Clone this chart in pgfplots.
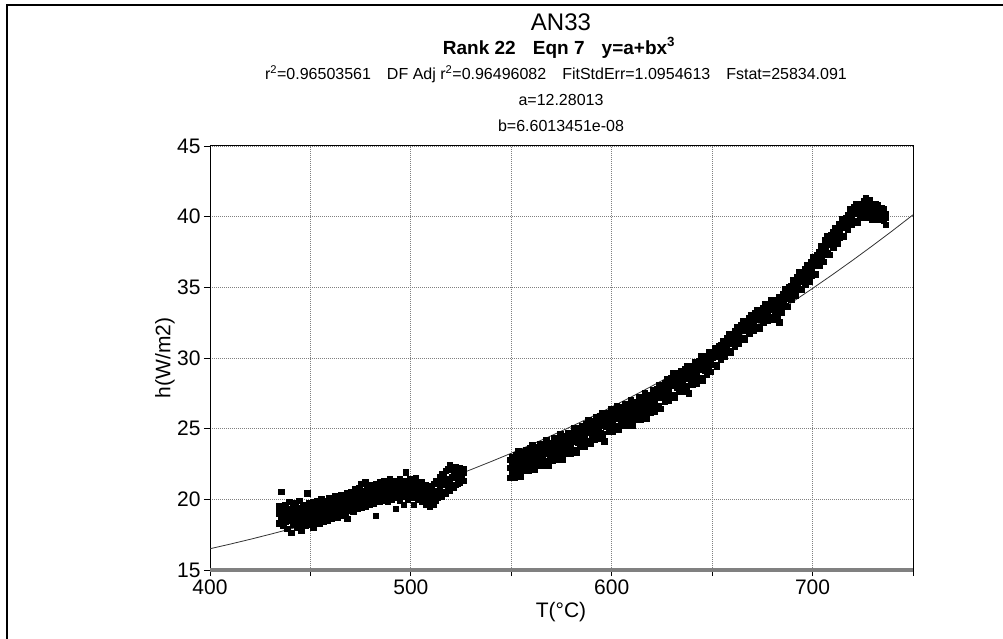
\documentclass[border=0pt]{standalone}
\usepackage{fontspec}
\setmainfont{Liberation Sans}
\usepackage{pgfplots}
\usepackage{pgfplotstable}
\pgfplotsset{compat=1.18}

% measured points, three readings per x column (lower, middle, upper part of the cloud)
\pgfplotstableread{
x lo mid hi
434.5 18.3 19.0 19.5
435.5 18.6 19.2 20.5
436.5 18.1 18.8 19.4
437.5 18.4 19.1 19.6
438.5 17.9 18.7 19.3
439.5 18.5 19.0 19.8
440.5 17.6 18.6 19.2
441.5 18.2 18.9 19.5
442.5 18.5 19.3 19.7
443.5 18.0 18.8 19.4
444.5 18.3 19.0 19.9
445.5 17.8 18.7 19.3
446.5 18.4 19.2 19.6
447.5 18.1 18.9 19.5
448.5 18.6 19.3 20.4
449.5 18.2 18.8 19.7
450.5 18.5 19.1 19.5
451.5 18.0 18.9 19.8
452.5 18.4 19.2 19.6
453.5 18.7 19.0 19.9
454.5 18.3 19.3 19.7
455.5 18.6 19.1 20.0
456.5 18.4 18.9 19.6
457.5 18.8 19.4 19.9
458.5 18.5 19.2 19.8
459.5 18.9 19.5 20.1
460.5 18.6 19.3 19.9
461.5 18.8 19.1 20.0
462.5 19.0 19.5 20.2
463.5 18.7 19.4 19.8
464.5 19.1 19.6 20.1
465.5 18.8 19.3 20.3
466.5 19.2 19.7 20.0
467.5 18.9 19.5 20.2
468.5 18.6 19.8 20.4
469.5 19.2 19.6 20.3
470.5 19.4 19.9 20.5
471.5 19.1 19.7 20.4
472.5 19.5 20.0 20.7
473.5 19.3 19.8 20.4
474.5 19.6 20.2 20.8
475.5 19.4 19.9 21.1
476.5 19.7 20.3 20.6
477.5 19.5 20.0 21.2
478.5 19.8 20.4 20.9
479.5 19.6 20.1 20.7
480.5 19.9 20.5 21.0
481.5 19.7 20.2 20.8
482.5 18.8 20.4 21.1
483.5 19.9 20.6 20.9
484.5 19.8 20.3 21.2
485.5 20.0 20.5 20.9
486.5 19.9 20.7 21.3
487.5 20.1 20.4 21.0
488.5 19.8 20.6 21.2
489.5 20.2 20.8 21.4
490.5 20.0 20.5 21.1
491.5 20.3 20.7 21.3
492.5 19.3 20.4 21.0
493.5 20.1 20.8 21.2
494.5 19.9 20.6 21.4
495.5 20.2 20.5 21.0
496.5 19.6 20.9 21.3
497.5 20.3 20.7 21.9
498.5 20.0 20.6 21.2
499.5 20.4 20.9 21.4
500.5 20.1 20.7 21.1
501.5 19.6 20.5 21.3
502.5 20.2 20.8 21.5
503.5 20.0 20.6 21.1
504.5 20.3 20.4 21.0
505.5 19.8 20.5 21.2
506.5 19.9 20.2 20.9
507.5 19.6 20.4 21.0
508.5 19.7 20.1 20.7
509.5 19.5 20.3 20.9
510.5 19.8 20.2 20.8
511.5 19.6 20.4 21.1
512.5 19.9 20.6 21.3
513.5 20.1 20.5 21.2
514.5 20.3 20.9 21.6
515.5 20.2 21.0 21.8
516.5 20.5 21.2 21.7
517.5 20.4 21.1 22.0
518.5 20.7 21.4 22.1
519.5 20.6 21.3 22.4
520.5 20.9 21.6 22.2
521.5 20.8 21.5 22.0
522.5 21.0 21.7 22.3
523.5 21.1 21.5 22.1
524.5 21.2 21.8 22.2
525.5 21.4 21.7 22.0
526.5 21.3 21.9 22.1
549.5 21.5 22.2 22.8
550.5 21.8 22.5 23.0
551.5 21.5 22.1 22.8
552.5 21.9 22.5 23.1
553.5 21.9 22.9 23.4
554.5 21.6 22.4 22.9
555.5 22.3 22.8 23.2
556.5 22.0 22.7 23.3
557.5 22.3 23.0 23.5
558.5 22.0 22.6 23.3
559.5 22.4 23.0 23.6
560.5 22.3 23.3 23.8
561.5 22.1 22.9 23.4
562.5 22.7 23.2 23.6
563.5 22.4 23.1 23.7
564.5 22.7 23.4 23.9
565.5 22.4 23.0 23.7
566.5 22.7 23.3 23.9
567.5 22.7 23.7 24.2
568.5 22.4 23.2 23.7
569.5 23.1 23.6 24.0
570.5 22.7 23.4 24.0
571.5 23.1 23.8 24.3
572.5 22.8 23.4 24.1
573.5 23.1 23.7 24.3
574.5 23.1 24.1 24.6
575.5 22.8 23.6 24.1
576.5 23.5 24.0 24.4
577.5 23.2 23.9 24.5
578.5 23.5 24.2 24.7
579.5 23.2 23.8 24.5
580.5 23.5 24.1 24.7
581.5 23.5 24.5 25.0
582.5 23.3 24.1 24.6
583.5 24.0 24.5 24.9
584.5 23.7 24.4 25.0
585.5 24.0 24.7 25.2
586.5 23.7 24.3 25.0
587.5 24.1 24.7 25.3
588.5 24.1 25.1 25.6
589.5 23.9 24.7 25.2
590.5 24.5 25.0 25.4
591.5 24.2 24.9 25.5
592.5 24.6 25.3 25.8
593.5 24.3 24.9 25.6
594.5 24.7 25.3 25.9
595.5 24.6 25.6 26.1
596.5 24.1 25.2 25.7
597.5 25.1 25.6 26.0
598.5 24.8 25.5 26.1
599.5 25.2 25.9 26.4
600.5 24.8 25.4 26.1
601.5 25.2 25.8 26.4
602.5 25.1 26.1 26.6
603.5 24.9 25.7 26.2
604.5 25.5 26.0 26.4
605.5 25.2 25.9 26.5
606.5 25.5 26.2 26.7
607.5 25.2 25.8 26.5
608.5 25.5 26.1 26.7
609.5 25.5 26.5 27.0
610.5 25.2 26.0 26.5
611.5 25.9 26.4 26.8
612.5 25.6 26.3 26.9
613.5 26.0 26.7 27.2
614.5 25.6 26.2 26.9
615.5 26.0 26.6 27.2
616.5 26.0 27.0 27.5
617.5 25.7 26.5 27.0
618.5 26.4 26.9 27.3
619.5 26.1 26.8 27.4
620.5 26.5 27.2 27.7
621.5 26.2 26.8 27.5
622.5 26.6 27.2 27.8
623.5 26.6 27.6 28.1
624.5 26.4 27.2 27.7
625.5 27.2 27.7 28.1
626.5 26.9 27.6 28.2
627.5 27.3 28.0 28.5
628.5 27.0 27.6 28.3
629.5 27.4 28.0 28.6
630.5 27.4 28.4 28.9
631.5 27.2 28.0 28.5
632.5 27.9 28.4 28.8
633.5 27.6 28.3 28.9
634.5 27.9 28.6 29.1
635.5 27.6 28.2 28.9
636.5 28.0 28.6 29.2
637.5 27.9 28.9 29.4
638.5 27.5 28.5 29.0
639.5 28.4 28.9 29.3
640.5 28.1 28.8 29.4
641.5 28.5 29.2 29.7
642.5 28.2 28.8 29.5
643.5 28.6 29.2 29.8
644.5 28.6 29.6 30.1
645.5 28.4 29.2 29.7
646.5 29.1 29.6 30.0
647.5 28.8 29.5 30.1
648.5 29.2 29.9 30.4
649.5 29.0 29.6 30.3
650.5 29.5 30.0 30.4
651.5 29.5 30.3 30.7
652.5 29.4 30.1 30.5
653.5 30.1 30.5 30.8
654.5 29.9 30.4 30.9
655.5 30.3 30.8 31.2
656.5 30.1 30.6 31.1
657.5 30.5 30.9 31.4
658.5 30.5 31.3 31.7
659.5 30.4 31.1 31.5
660.5 31.0 31.4 31.7
661.5 30.8 31.4 31.9
662.5 31.2 31.8 32.2
663.5 31.0 31.5 32.1
664.5 31.4 31.9 32.3
665.5 31.4 32.2 32.6
666.5 31.3 32.0 32.4
667.5 31.9 32.3 32.6
668.5 31.7 32.3 32.8
669.5 32.1 32.6 33.0
670.5 31.9 32.3 32.9
671.5 32.2 32.7 33.2
672.5 32.2 33.0 33.4
673.5 32.1 32.8 33.2
674.5 32.7 33.1 33.4
675.5 32.5 33.0 33.5
676.5 32.8 33.4 33.8
677.5 32.6 33.0 33.6
678.5 32.9 33.4 33.8
679.5 32.9 33.7 34.1
680.5 32.7 33.4 33.8
681.5 33.3 33.7 34.0
682.5 33.0 33.6 34.1
683.5 32.5 33.9 34.3
684.5 33.2 33.6 34.2
685.5 33.6 34.0 34.5
686.5 33.7 34.5 34.9
687.5 33.6 34.2 34.6
688.5 34.3 34.7 35.0
689.5 34.1 34.7 35.1
690.5 34.5 35.1 35.5
691.5 34.4 34.9 35.4
692.5 34.8 35.3 35.7
693.5 34.9 35.7 36.1
694.5 34.8 35.4 35.8
695.5 35.4 35.8 36.1
696.5 35.2 35.8 36.3
697.5 35.6 36.2 36.6
698.5 35.4 35.9 36.5
699.5 35.8 36.3 36.8
700.5 35.9 36.7 37.1
701.5 35.9 36.5 36.9
702.5 36.6 37.0 37.3
703.5 36.5 37.1 37.5
704.5 36.9 37.5 37.9
705.5 36.8 37.3 37.9
706.5 37.3 37.8 38.3
707.5 37.4 38.2 38.6
708.5 37.3 38.0 38.4
709.5 38.0 38.4 38.7
710.5 37.8 38.4 38.9
711.5 38.3 38.8 39.2
712.5 38.1 38.6 39.1
713.5 38.5 39.0 39.5
714.5 38.6 39.4 39.8
715.5 38.6 39.2 39.6
716.5 39.2 39.6 39.9
717.5 39.1 39.6 40.1
718.5 39.5 40.1 40.5
719.5 39.4 39.9 40.4
720.5 39.7 40.2 40.7
721.5 39.7 40.5 40.9
722.5 39.6 40.2 40.6
723.5 40.1 40.5 40.8
724.5 39.9 40.4 40.9
725.5 40.2 40.7 41.1
726.5 39.9 40.4 41.3
727.5 40.2 40.7 41.1
728.5 40.1 40.9 41.2
729.5 39.8 40.4 40.8
730.5 40.2 40.6 40.9
731.5 39.8 40.4 40.9
732.5 40.0 40.6 40.8
733.5 39.9 40.1 40.6
734.5 39.8 40.2 40.6
735.5 39.7 40.3 40.5
736.5 39.4 39.9 40.2
}\scatterdata

% fitted curve y = a + b x^3, a = 12.28013, b = 6.6013451e-08
\pgfplotstableread{
x y
400 16.505
410 16.830
420 17.171
430 17.529
440 17.903
450 18.296
460 18.706
470 19.134
480 19.581
490 20.047
500 20.532
510 21.037
520 21.562
530 22.108
540 22.675
550 23.263
560 23.873
570 24.505
580 25.160
590 25.838
600 26.539
610 27.264
620 28.013
630 28.787
640 29.585
650 30.409
660 31.259
670 32.135
680 33.037
690 33.966
700 34.923
710 35.907
720 36.920
730 37.961
740 39.030
750 40.130
}\fitline

\begin{document}
\begin{tikzpicture}
\useasboundingbox (-210bp,-69bp) rectangle (793bp,570bp);
\draw[line width=1.5bp] (-203bp,-69bp) -- (-203bp,565bp) -- (793bp,565bp);
\begin{axis}[
  scale only axis, width=703bp, height=424bp,
  at={(0,0)}, anchor=south west,
  xmin=400, xmax=750, ymin=15, ymax=45,
  xtick={400,500,600,700}, minor xtick={450,550,650,750},
  ytick={15,20,...,45},
  grid=both,
  major grid style={gray, line width=0.8bp, dash pattern=on 1bp off 1bp},
  minor grid style={gray, line width=0.8bp, dash pattern=on 1bp off 1bp},
  tick align=outside, major tick length=6bp, minor tick length=6bp,
  xtick pos=left, ytick pos=left,
  tick style={black, line width=0.8bp},
  axis line style={black, line width=1bp},
  ticklabel style={font=\fontsize{21bp}{24bp}\selectfont},
  /pgf/number format/assume math mode=true,
]
\addplot[no markers, color=black!80, line width=0.8bp] table[x=x, y=y] {\fitline};
\addplot[only marks, mark=square*, mark size=2.7bp, mark options={black, line width=0pt}] table[x=x, y=lo] {\scatterdata};
\addplot[only marks, mark=square*, mark size=2.7bp, mark options={black, line width=0pt}] table[x=x, y=mid] {\scatterdata};
\addplot[only marks, mark=square*, mark size=2.7bp, mark options={black, line width=0pt}] table[x=x, y=hi] {\scatterdata};
\end{axis}
\draw[gray, line width=3bp] (0bp,0bp) -- (703bp,0bp);
\node[font=\fontsize{24bp}{28bp}\selectfont] at (351bp,548bp) {AN33};
\node[font=\fontsize{19bp}{22bp}\selectfont\bfseries] at (349bp,522bp) {Rank 22\hspace{0.9em}Eqn 7\hspace{0.9em}y=a+bx\textsuperscript{3}};
\node[font=\fontsize{16bp}{19bp}\selectfont] at (346bp,496bp) {r\textsuperscript{2}=0.96503561\hspace{1em}DF Adj r\textsuperscript{2}=0.96496082\hspace{1em}FitStdErr=1.0954613\hspace{1em}Fstat=25834.091};
\node[font=\fontsize{16bp}{19bp}\selectfont] at (351bp,470bp) {a=12.28013};
\node[font=\fontsize{16bp}{19bp}\selectfont] at (351bp,444bp) {b=6.6013451e-08};
\node[rotate=90, font=\fontsize{21bp}{24bp}\selectfont] at (-45bp,212bp) {h(W/m2)};
\node[font=\fontsize{21bp}{24bp}\selectfont] at (351bp,-42bp) {T(°C)};
\end{tikzpicture}
\end{document}
